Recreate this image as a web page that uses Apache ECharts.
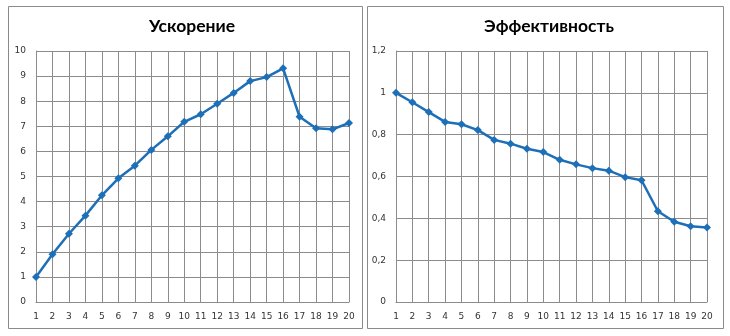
<!DOCTYPE html>
<html><head><meta charset="utf-8">
<script src="https://cdn.jsdelivr.net/npm/echarts@6/dist/echarts.min.js"></script>
<style>html,body{margin:0;padding:0;background:#fff}#c{width:730px;height:336px}</style>
</head><body><div id="c"></div>
<script>
const categories = ['1','2','3','4','5','6','7','8','9','10','11','12','13','14','15','16','17','18','19','20'];
const speedup = [1, 1.9, 2.72, 3.44, 4.25, 4.93, 5.43, 6.06, 6.6, 7.18, 7.48, 7.9, 8.33, 8.8, 8.96, 9.31, 7.38, 6.92, 6.88, 7.13];
const efficiency = [1, 0.955, 0.908, 0.861, 0.85, 0.822, 0.775, 0.757, 0.733, 0.717, 0.68, 0.658, 0.64, 0.628, 0.597, 0.582, 0.434, 0.384, 0.362, 0.356];
const titles = ['Ускорение', 'Эффективность'];

const chart = echarts.init(document.getElementById('c'), null, {renderer:'canvas'});
const lineColor = '#1d6fb8';
const gridColor = '#8c8c8c';
const labelStyle = {color:'#333', fontSize:9, fontFamily:'"DejaVu Sans", sans-serif'};
function xAx(i){return {type:'category', gridIndex:i, data:categories, boundaryGap:false,
  axisLine:{lineStyle:{color:gridColor,width:1}}, axisTick:{show:false},
  axisLabel:Object.assign({margin:10, interval:0}, labelStyle),
  splitLine:{show:true, lineStyle:{color:gridColor,width:1}}};}
function yAx(i,max,interval,fmt){return {type:'value', gridIndex:i, min:0, max:max, interval:interval,
  axisLine:{show:true, lineStyle:{color:gridColor,width:1}}, axisTick:{show:false},
  axisLabel:Object.assign({margin:10, formatter:fmt}, labelStyle),
  splitLine:{show:true, lineStyle:{color:gridColor,width:1}}};}
const titleStyle = {fontSize:17.5, fontWeight:'bold', color:'#000', fontFamily:'Lato, sans-serif'};
chart.setOption({
  animation:false,
  backgroundColor:'#fff',
  title:[
    {text:titles[0], left:187, top:12, textAlign:'center', textStyle:titleStyle},
    {text:titles[1], left:544, top:12, textAlign:'center', textStyle:titleStyle}
  ],
  graphic:[
    {type:'rect', shape:{x:8.5,y:6.5,width:354,height:322}, style:{fill:'none', stroke:'#8a8a8a', lineWidth:1}, z:-1},
    {type:'rect', shape:{x:367.5,y:6.5,width:356,height:322}, style:{fill:'none', stroke:'#8a8a8a', lineWidth:1}, z:-1}
  ],
  grid:[
    {left:36, right:381, top:51, bottom:34},
    {left:396, right:23, top:51, bottom:34}
  ],
  xAxis:[xAx(0), xAx(1)],
  yAxis:[
    yAx(0,10,1,function(v){return String(v);}),
    yAx(1,1.2,0.2,function(v){return String(Math.round(v*10)/10).replace('.',',');})
  ],
  series:[
    {type:'line', xAxisIndex:0, yAxisIndex:0, data:speedup, symbol:'diamond', symbolSize:8,
     lineStyle:{color:lineColor,width:2.5}, itemStyle:{color:lineColor}},
    {type:'line', xAxisIndex:1, yAxisIndex:1, data:efficiency, symbol:'diamond', symbolSize:8,
     lineStyle:{color:lineColor,width:2.5}, itemStyle:{color:lineColor}}
  ]
});
</script></body></html>
